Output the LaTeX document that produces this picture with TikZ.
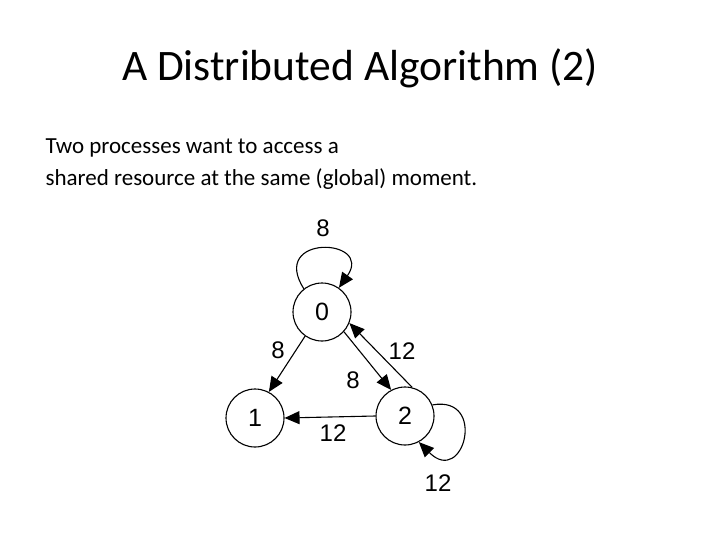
\documentclass[tikz,border=0pt]{standalone}
\usepackage{fontspec}
\setmainfont{Carlito}
\newfontfamily\arial{Liberation Sans}
\usetikzlibrary{arrows.meta}
\begin{document}
\begin{tikzpicture}[x=1pt,y=-1pt,
  st/.style={circle,draw,line width=1.1pt,minimum size=58pt,inner sep=0pt,font=\arial\fontsize{25}{25}\selectfont},
  ed/.style={line width=1.1pt,-{Triangle[length=15pt,width=13pt]}},
  lb/.style={font=\arial\fontsize{24}{24}\selectfont}]
\useasboundingbox (0,0) rectangle (720,540);
\node (title) at (360,68) {\fontsize{43.5}{48}\selectfont A Distributed Algorithm (2)};
\node[anchor=west,align=left,font=\fontsize{23}{32}\selectfont] (body) at (42,164) {Two processes want to access a\\shared resource at the same (global) moment.};
\node[st] (n0) at (322,312) {0};
\node[st] (n1) at (255,418) {1};
\node[st] (n2) at (405,416) {2};
\draw[ed] (n0.235) -- (n1.62);
\draw[ed] (n2.180) -- (n1.0);
\draw[ed] (n0.-42) -- (n2.118);
\draw[ed] (n2.76) -- (n0.-22);
\draw[ed] (n0.128) .. controls +(-35,-55) and +(35,-50) .. (n0.55);
\draw[ed] (n2.22) .. controls +(55,-10) and +(45,45) .. (n2.-62);
\node[lb] (l1) at (323,228) {8};
\node[lb] (l2) at (278,350) {8};
\node[lb] (l3) at (353,380) {8};
\node[lb] (l4) at (402,351) {12};
\node[lb] (l5) at (333,433) {12};
\node[lb] (l6) at (438,483) {12};
\end{tikzpicture}
\end{document}
